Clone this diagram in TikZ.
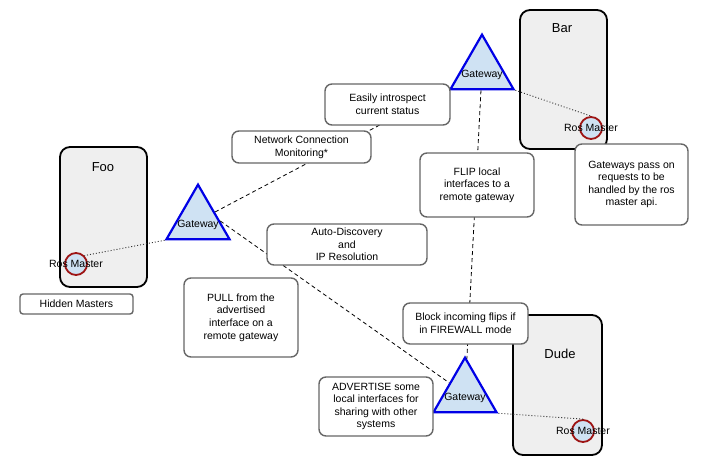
\documentclass[tikz,border=0pt]{standalone}
\usepackage{fontspec}
\setmainfont{Liberation Sans}
\usetikzlibrary{shapes.geometric}
\definecolor{hostgray}{HTML}{EFEFEF}
\definecolor{gwfill}{HTML}{CFE2F3}
\definecolor{gwline}{HTML}{0000E6}
\definecolor{rmred}{HTML}{9E1515}
\definecolor{ntgray}{HTML}{666666}

\begin{document}
\begin{tikzpicture}
    [x=1pt, y=-1pt,
     host/.style={rectangle, rounded corners=10pt, draw=black, line width=1.8pt, fill=hostgray},
     hl/.style={font=\fontsize{13}{15}\selectfont},
     gw/.style={regular polygon, regular polygon sides=3, minimum size=72.7pt, inner sep=0pt,
                draw=gwline, line width=2.2pt, fill=gwfill,
                label={[yshift=-3.5pt, font=\fontsize{10.5}{12}\selectfont]center:Gateway}},
     rm/.style={circle, minimum size=22pt, inner sep=0pt, draw=rmred, line width=1.8pt, fill=gwfill,
                label={[font=\fontsize{10.5}{12}\selectfont]center:Ros Master}},
     nt/.style={rectangle, rounded corners=7pt, draw=ntgray, line width=1.4pt, fill=white,
                inner sep=2pt, align=center, font=\fontsize{10.5}{12.6}\selectfont},
     lk/.style={draw=black, line width=0.8pt, dash pattern=on 4pt off 3pt},
     dt/.style={draw=black!80, line width=0.9pt, dash pattern=on 1pt off 2pt}]

    \useasboundingbox (0,0) rectangle (724,476);

    \node [host, minimum width=87pt, minimum height=140pt] (foo) at (103.5,217) {};
    \node [host, minimum width=87pt, minimum height=139pt] (bar) at (563.5,79.5) {};
    \node [host, minimum width=89pt, minimum height=140pt] (dude) at (557.5,385) {};
    \node [hl] (footitle) at (103,167) {Foo};
    \node [hl] (bartitle) at (562,28) {Bar};
    \node [hl] (dudetitle) at (560,354) {Dude};

    \node [rm] (rmfoo) at (76,264) {};
    \node [rm] (rmbar) at (591,128) {};
    \node [rm] (rmdude) at (583,431) {};

    \node [gw] (gwfoo) at (198,221) {};
    \node [gw] (gwbar) at (482,71) {};
    \node [gw] (gwdude) at (465,394) {};

    \draw [lk] (gwfoo) -- (gwbar);
    \draw [lk] (gwfoo.east) -- (gwdude);
    \draw [lk] (gwbar) -- (gwdude);

    \draw [dt] (gwfoo.corner 2) -- (rmfoo.north east);
    \draw [dt] (gwbar.corner 3) -- (rmbar.north);
    \draw [dt] (gwdude.corner 3) -- (rmdude.north);

    \node [nt, minimum width=125pt, minimum height=41pt] (intro) at (387.5,104.5)
        {Easily introspect\\current status};
    \node [nt, minimum width=139pt, minimum height=32pt] (monitor) at (301.5,147)
        {Network Connection\\Monitoring*};
    \node [nt, minimum width=160pt, minimum height=41pt] (discovery) at (347,244.5)
        {Auto-Discovery\\and\\IP Resolution};
    \node [nt, minimum width=114pt, minimum height=79pt] (pull) at (241,317.5)
        {PULL from the\\advertised\\interface on a\\remote gateway};
    \node [nt, minimum width=114pt, minimum height=64pt] (flip) at (477,185)
        {FLIP local\\interfaces to a\\remote gateway};
    \node [nt, minimum width=113pt, minimum height=81pt] (pass) at (631.5,184.5)
        {Gateways pass on\\requests to be\\handled by the ros\\master api.};
    \node [nt, minimum width=125pt, minimum height=41pt] (block) at (465.5,323.5)
        {Block incoming flips if\\in FIREWALL mode};
    \node [nt, minimum width=114pt, minimum height=59pt] (advertise) at (376,406.5)
        {ADVERTISE some\\local interfaces for\\sharing with other\\systems};
    \node [nt, rounded corners=3pt, minimum width=113pt, minimum height=20pt] (hidden) at (76.5,304)
        {Hidden Masters};
\end{tikzpicture}
\end{document}
